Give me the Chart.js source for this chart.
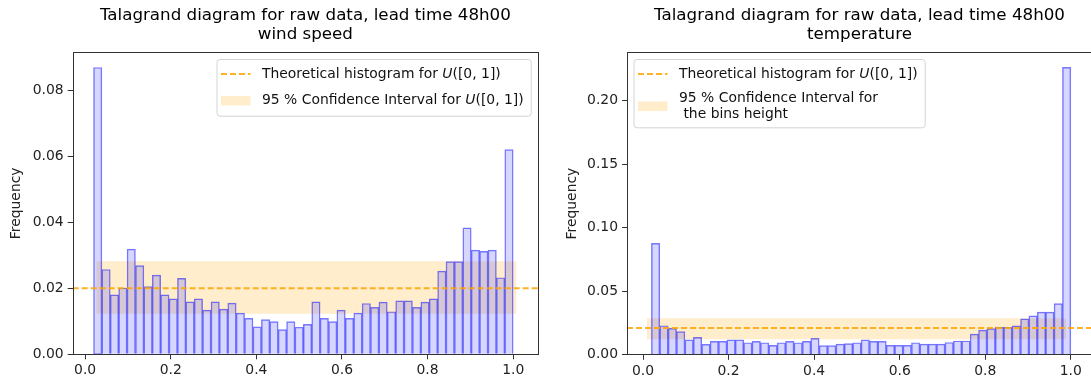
<!DOCTYPE html>
<html>
<head>
<meta charset="utf-8">
<script src="https://cdn.jsdelivr.net/npm/chart.js@4.4.0/dist/chart.umd.min.js"></script>
<style>
  html, body { margin: 0; padding: 0; background: #fff; overflow: hidden; }
  body { width: 1091px; height: 383px; position: relative; }
  .panel { position: absolute; top: 0; height: 383px; }
  #left { left: 0; width: 550px; }
  #right { left: 550px; width: 545px; }
</style>
</head>
<body>
<div class="panel" id="left"><canvas id="windChart" width="550" height="383"></canvas></div>
<div class="panel" id="right"><canvas id="tempChart" width="545" height="383"></canvas></div>
<script>
// rank histogram bins (centres), 50 bins of width 1/51
const binCenters = [
  0.0294, 0.0490, 0.0686, 0.0882, 0.1078, 0.1275, 0.1471, 0.1667, 0.1863, 0.2059,
  0.2255, 0.2451, 0.2647, 0.2843, 0.3039, 0.3235, 0.3431, 0.3627, 0.3824, 0.4020,
  0.4216, 0.4412, 0.4608, 0.4804, 0.5000, 0.5196, 0.5392, 0.5588, 0.5784, 0.5980,
  0.6176, 0.6373, 0.6569, 0.6765, 0.6961, 0.7157, 0.7353, 0.7549, 0.7745, 0.7941,
  0.8137, 0.8333, 0.8529, 0.8725, 0.8922, 0.9118, 0.9314, 0.9510, 0.9706, 0.9902
];

const windFreq = [
  0.0869, 0.0257, 0.0180, 0.0201, 0.0319, 0.0269, 0.0205, 0.0240, 0.0180, 0.0168,
  0.0230, 0.0159, 0.0168, 0.0134, 0.0159, 0.0137, 0.0155, 0.0125, 0.0109, 0.0083,
  0.0105, 0.0099, 0.0075, 0.0099, 0.0082, 0.0091, 0.0159, 0.0109, 0.0099, 0.0134,
  0.0109, 0.0125, 0.0154, 0.0142, 0.0158, 0.0129, 0.0162, 0.0162, 0.0142, 0.0158,
  0.0168, 0.0252, 0.0281, 0.0281, 0.0383, 0.0316, 0.0312, 0.0316, 0.0232, 0.0620
];

const tempFreq = [
  0.0878, 0.0229, 0.0209, 0.0182, 0.0117, 0.0138, 0.0083, 0.0106, 0.0106, 0.0117,
  0.0117, 0.0095, 0.0106, 0.0095, 0.0075, 0.0095, 0.0106, 0.0095, 0.0106, 0.0130,
  0.0072, 0.0072, 0.0085, 0.0088, 0.0095, 0.0117, 0.0106, 0.0106, 0.0074, 0.0074,
  0.0074, 0.0095, 0.0085, 0.0085, 0.0085, 0.0097, 0.0109, 0.0109, 0.0163, 0.0195,
  0.0206, 0.0217, 0.0217, 0.0228, 0.0283, 0.0307, 0.0337, 0.0337, 0.0404, 0.2264
];

const xTicks = [0, 0.2, 0.4, 0.6, 0.8, 1.0];
const windYTicks = [0, 0.02, 0.04, 0.06, 0.08];
const tempYTicks = [0, 0.05, 0.10, 0.15, 0.20];

// uniform reference level and 95 % band (low, high) with its x extent
const windUniform = 0.020;
const windBand = [0.0123, 0.0282];
const windBandX = [0.026, 1.008];
const tempUniform = 0.0212;
const tempBand = [0.0122, 0.0287];
const tempBandX = [0.0093, 0.989];

const titleLine = 'Talagrand diagram for raw data, lead time 48h00';
const uniLabel = [{t: 'Theoretical histogram for '}, {t: 'U', it: true}, {t: '([0, 1])'}];
const windCILabel = [[{t: '95 % Confidence Interval for '}, {t: 'U', it: true}, {t: '([0, 1])'}]];
const tempCILabel = [[{t: '95 % Confidence Interval for'}], [{t: ' the bins height'}]];

const FONT = 'DejaVu Sans';
const FS = 13.9;
const ORANGE_LINE = 'rgba(255,165,0,0.85)';
const ORANGE_BAND = 'rgba(255,165,0,0.2)';

// frame around the axes + the legend box (matplotlib look)
const frameLegend = {
  id: 'frameLegend',
  afterDraw(chart, args, opts) {
    const ctx = chart.ctx;
    const a = chart.chartArea;
    ctx.save();
    ctx.strokeStyle = '#333';
    ctx.lineWidth = 1;
    ctx.strokeRect(Math.round(a.left) + 0.5, Math.round(a.top) + 0.5,
      Math.round(a.right - a.left), Math.round(a.bottom - a.top));

    const font = (it) => (it ? 'italic ' : '') + FS + 'px "' + FONT + '"';
    const segWidth = (segs) => segs.reduce((w, s) => { ctx.font = font(s.it); return w + ctx.measureText(s.t).width; }, 0);
    const rows = [[uniLabel], opts.ciLabel];
    let textW = 0;
    rows.forEach(r => r.forEach(l => { textW = Math.max(textW, segWidth(l)); }));
    const boxW = 45.5 + textW + 7;
    const boxH = opts.height;
    const x0 = opts.align === 'right' ? a.right - 7.3 - boxW : a.left + 6.5;
    const y0 = a.top + 6.7;

    ctx.beginPath();
    ctx.roundRect(x0 + 0.5, y0 + 0.5, boxW, boxH, 3);
    ctx.fillStyle = 'rgba(255,255,255,0.8)';
    ctx.fill();
    ctx.strokeStyle = '#d4d4d4';
    ctx.stroke();

    // row 1: dashed line handle
    const r1 = y0 + 15;
    ctx.beginPath();
    ctx.setLineDash([6, 3]);
    ctx.strokeStyle = ORANGE_LINE;
    ctx.lineWidth = 2;
    ctx.moveTo(x0 + 4.5, r1);
    ctx.lineTo(x0 + 34, r1);
    ctx.stroke();
    ctx.setLineDash([]);

    // row 2: band patch
    const r2 = y0 + opts.row2;
    ctx.fillStyle = ORANGE_BAND;
    ctx.fillRect(x0 + 4.5, r2 - 4.8, 29.5, 9.6);

    ctx.fillStyle = '#111';
    ctx.textBaseline = 'middle';
    ctx.textAlign = 'left';
    const drawSegs = (segs, x, y) => {
      segs.forEach(s => { ctx.font = font(s.it); ctx.fillText(s.t, x, y); x += ctx.measureText(s.t).width; });
    };
    drawSegs(uniLabel, x0 + 45.5, r1);
    const lines = opts.ciLabel;
    const lh = 15.7;
    const start = r2 - (lines.length - 1) * lh / 2;
    lines.forEach((l, i) => drawSegs(l, x0 + 45.5, start + i * lh));
    ctx.restore();
  }
};

function makeChart(id, p) {
  new Chart(document.getElementById(id), {
    type: 'bar',
    data: {
      datasets: [
        {
          type: 'line',
          data: [{x: p.xMin, y: p.uniform}, {x: p.xMax, y: p.uniform}],
          borderColor: ORANGE_LINE,
          borderWidth: 2,
          borderDash: [6, 3],
          pointRadius: 0,
          fill: false,
          order: 0
        },
        {
          data: binCenters.map((x, i) => ({x: x, y: p.freq[i]})),
          backgroundColor: 'rgba(0,0,255,0.16)',
          borderColor: 'rgba(0,0,255,0.5)',
          borderWidth: 0.8,
          barPercentage: 1,
          categoryPercentage: 1,
          order: 1
        },
        {
          type: 'line',
          data: [{x: p.bandX[0], y: p.band[1]}, {x: p.bandX[1], y: p.band[1]}],
          borderWidth: 0,
          pointRadius: 0,
          backgroundColor: ORANGE_BAND,
          fill: '+1',
          order: 2
        },
        {
          type: 'line',
          data: [{x: p.bandX[0], y: p.band[0]}, {x: p.bandX[1], y: p.band[0]}],
          borderWidth: 0,
          pointRadius: 0,
          fill: false,
          order: 3
        }
      ]
    },
    options: {
      responsive: false,
      animation: false,
      layout: { padding: { left: 0, right: p.padRight, top: 0, bottom: 0 } },
      plugins: {
        legend: { display: false },
        tooltip: { enabled: false },
        title: {
          display: true,
          fullSize: false,
          text: [titleLine, p.subtitle],
          color: '#000',
          font: { family: FONT, size: 16.7, weight: 'normal', lineHeight: 1.15 },
          padding: { top: 6, bottom: 7.9 }
        },
        frameLegend: { align: p.legendAlign, ciLabel: p.ciLabel, height: p.legendH, row2: p.row2 }
      },
      scales: {
        x: {
          type: 'linear',
          min: p.xMin,
          max: p.xMax,
          offset: false,
          afterBuildTicks: s => { s.ticks = xTicks.map(v => ({value: v})); },
          afterFit: s => { s.height = p.xHeight; },
          ticks: {
            autoSkip: false, maxRotation: 0, padding: 3, color: '#222',
            font: { family: FONT, size: FS },
            callback: v => Number(v).toFixed(1)
          },
          grid: { display: true, offset: false, drawOnChartArea: false, drawTicks: true, tickLength: 5, color: '#333' },
          border: { display: false }
        },
        y: {
          min: 0,
          max: p.yMax,
          afterBuildTicks: s => { s.ticks = p.yTicks.map(v => ({value: v})); },
          afterFit: s => { s.width = p.yWidth; },
          ticks: {
            padding: 4, color: '#222',
            font: { family: FONT, size: FS },
            callback: v => Number(v).toFixed(2)
          },
          title: {
            display: true, text: 'Frequency', color: '#222',
            font: { family: FONT, size: FS },
            padding: { top: p.yTitlePad, bottom: 0 }
          },
          grid: { display: true, drawOnChartArea: false, drawTicks: true, tickLength: 5, color: '#333' },
          border: { display: false }
        }
      }
    },
    plugins: [frameLegend]
  });
}

makeChart('windChart', {
  freq: windFreq, uniform: windUniform, band: windBand, bandX: windBandX,
  xMin: -0.029, xMax: 1.058, yMax: 0.0915, yTicks: windYTicks,
  subtitle: 'wind speed', padRight: 12, yWidth: 72.7, xHeight: 28.7, yTitlePad: 8.4,
  legendAlign: 'right', ciLabel: windCILabel, legendH: 56.7, row2: 41.7
});

makeChart('tempChart', {
  freq: tempFreq, uniform: tempUniform, band: tempBand, bandX: tempBandX,
  xMin: -0.0374, xMax: 1.0495, yMax: 0.2382, yTicks: tempYTicks,
  subtitle: 'temperature', padRight: 3, yWidth: 77, xHeight: 28.2, yTitlePad: 13.7,
  legendAlign: 'left', ciLabel: tempCILabel, legendH: 68.3, row2: 47.2
});
</script>
</body>
</html>
